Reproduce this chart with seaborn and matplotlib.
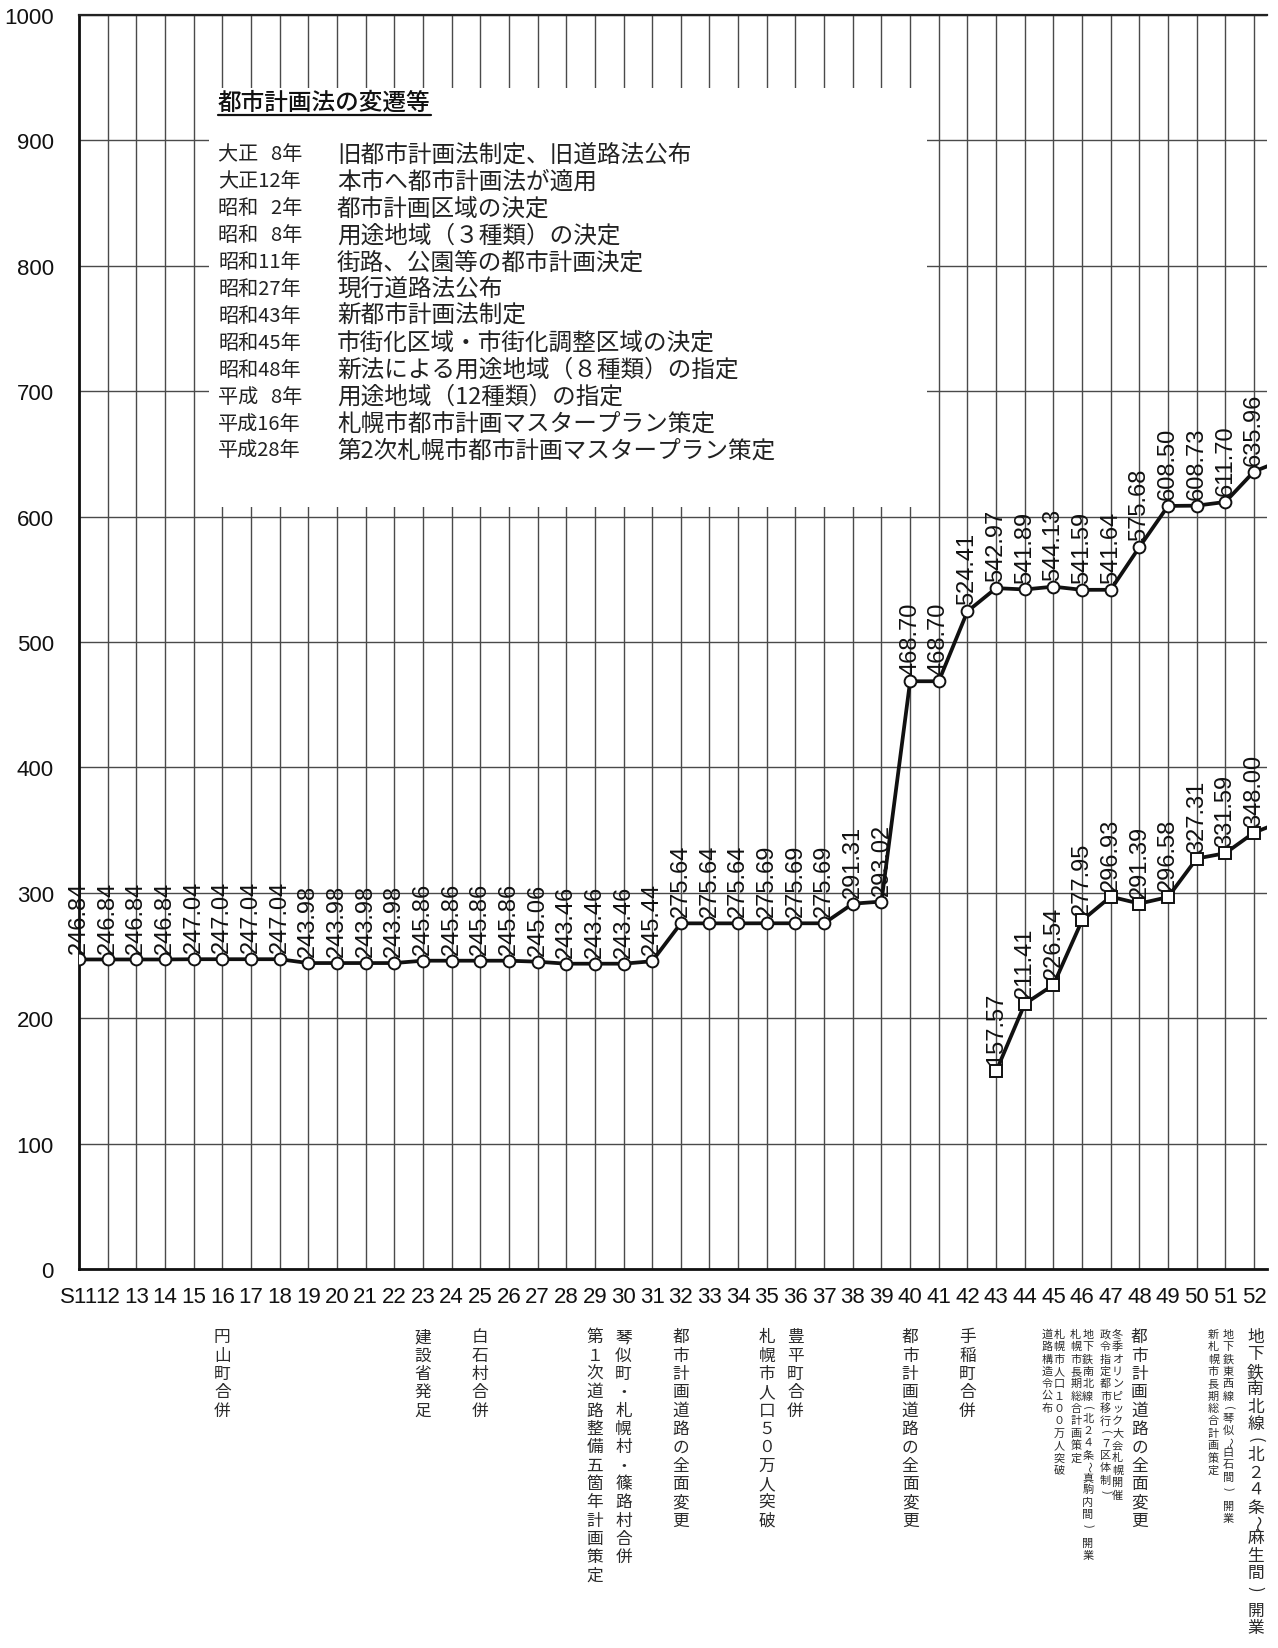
import numpy as np
import pandas as pd
import matplotlib
matplotlib.use("Agg")
import matplotlib.pyplot as plt
import seaborn as sns
from matplotlib.patches import Rectangle
from matplotlib.lines import Line2D

# ---------------- data ----------------
years = ["S11"] + [str(i) for i in range(12, 53)]

total_km = [246.84, 246.84, 246.84, 246.84, 247.04, 247.04, 247.04, 247.04,
            243.98, 243.98, 243.98, 243.98, 245.86, 245.86, 245.86, 245.86,
            245.06, 243.46, 243.46, 243.46, 245.44, 275.64, 275.64, 275.64,
            275.69, 275.69, 275.69, 291.31, 293.02, 468.70, 468.70, 524.41,
            542.97, 541.89, 544.13, 541.59, 541.64, 575.68, 608.50, 608.73,
            611.70, 635.96]
total_next = 645.0          # following year, only its connecting segment is visible

second_years = ["43", "44", "45", "46", "47", "48", "49", "50", "51", "52"]
second_km = [157.57, 211.41, 226.54, 277.95, 296.93, 291.39, 296.58,
             327.31, 331.59, 348.00]
second_next = 357.0

y_ticks = [0, 100, 200, 300, 400, 500, 600, 700, 800, 900, 1000]

box_title = "都市計画法の変遷等"
history_era = ["大正\u20078年", "大正12年", "昭和\u20072年", "昭和\u20078年", "昭和11年",
               "昭和27年", "昭和43年", "昭和45年", "昭和48年", "平成\u20078年",
               "平成16年", "平成28年"]
history_text = ["旧都市計画法制定、旧道路法公布",
                "本市へ都市計画法が適用",
                "都市計画区域の決定",
                "用途地域（３種類）の決定",
                "街路、公園等の都市計画決定",
                "現行道路法公布",
                "新都市計画法制定",
                "市街化区域・市街化調整区域の決定",
                "新法による用途地域（８種類）の指定",
                "用途地域（12種類）の指定",
                "札幌市都市計画マスタープラン策定",
                "第2次札幌市都市計画マスタープラン策定"]

# events under the axis: (year, offset in year units, text, size class)
events = [
    ("16", 0.0, "円山町合併", "L"),
    ("23", 0.0, "建設省発足", "L"),
    ("25", 0.0, "白石村合併", "L"),
    ("29", 0.0, "第１次道路整備五箇年計画策定", "L"),
    ("30", 0.0, "琴似町・札幌村・篠路村合併", "L"),
    ("32", 0.0, "都市計画道路の全面変更", "L"),
    ("35", 0.0, "札幌市人口５０万人突破", "L"),
    ("36", 0.0, "豊平町合併", "L"),
    ("40", 0.0, "都市計画道路の全面変更", "L"),
    ("42", 0.0, "手稲町合併", "L"),
    ("45", -0.22, "道路構造令公布", "S"),
    ("45", 0.20, "札幌市人口１００万人突破", "S"),
    ("46", -0.22, "札幌市長期総合計画策定", "S"),
    ("46", 0.20, "地下鉄南北線（北２４条～真駒内間）　開業", "S"),
    ("47", -0.18, "政令指定都市移行（７区体制）", "S"),
    ("47", 0.24, "冬季オリンピック大会札幌開催", "S"),
    ("48", 0.0, "都市計画道路の全面変更", "L"),
    ("51", -0.42, "新札幌市長期総合計画策定", "S"),
    ("51", 0.10, "地下鉄東西線（琴似～白石間）　開業", "S"),
    ("52", 0.05, "地下鉄南北線（北２４条～麻生間）　開業", "L2"),
]

# ---------------- style ----------------
sns.set_theme(style="white")
NUM_FONT = ["Liberation Sans", "DejaVu Sans"]
CJK_FONT = ["Noto Sans CJK JP", "DejaVu Sans"]
plt.rcParams["font.family"] = NUM_FONT

W, H = 1278, 1649
fig = plt.figure(figsize=(W / 100, H / 100), dpi=100)
ax_left, ax_right, ax_top, ax_bottom = 79, 1267, 16, 1270
ax = fig.add_axes([ax_left / W, 1 - ax_bottom / H,
                   (ax_right - ax_left) / W, (ax_bottom - ax_top) / H])

pos = np.arange(len(years))
df1 = pd.DataFrame({"pos": np.append(pos, len(years)),
                    "km": total_km + [total_next]})
pos2 = np.array([years.index(y) for y in second_years])
df2 = pd.DataFrame({"pos": np.append(pos2, len(years)),
                    "km": second_km + [second_next]})

line_kw = dict(color="#111111", linewidth=2.7, markeredgecolor="#111111",
               markerfacecolor="white", markeredgewidth=1.4, zorder=3)
sns.lineplot(data=df1, x="pos", y="km", marker="o", markersize=8.5, ax=ax, **line_kw)
sns.lineplot(data=df2, x="pos", y="km", marker="s", markersize=8.5, ax=ax, **line_kw)

step = 28.7
ax.set_xlim(0, len(years) - 1 + (ax_right - 1254) / step)
ax.set_ylim(0, 1000)
ax.set_xticks(pos)
ax.set_xticklabels(years)
ax.set_yticks(y_ticks)
ax.set_xlabel("")
ax.set_ylabel("")
ax.tick_params(axis="x", length=0, pad=12, labelsize=16, labelcolor="#111111")
ax.tick_params(axis="y", length=0, pad=18, labelsize=16, labelcolor="#111111")

ax.set_axisbelow(True)
ax.grid(True, axis="both", color="#4a4a4a", linewidth=1.0)
for side in ["left", "bottom"]:
    ax.spines[side].set_color("#111111")
    ax.spines[side].set_linewidth(2.0)
ax.spines["top"].set_color("#222222")
ax.spines["top"].set_linewidth(1.6)
ax.spines["right"].set_visible(False)

# white panel that hides the grid behind the list
ax.add_patch(Rectangle((4.55, 608), 29.6 - 4.55, 942 - 608, facecolor="white",
                       edgecolor="none", zorder=1))

# value labels
for xs, vs in ((pos, total_km), (pos2, second_km)):
    for x, v in zip(xs, vs):
        ax.annotate(f"{v:.2f}", (x, v), xytext=(0, 5), textcoords="offset points",
                    rotation=90, ha="center", va="bottom", fontsize=17,
                    color="#111111", zorder=4)

# list in the panel
t = fig.text(218 / W, 1 - 92 / H, box_title, ha="left", va="top", fontsize=17,
             family=CJK_FONT, fontweight="medium", color="#111111")
row0, drow = 155, 26.9
for i, (era, txt) in enumerate(zip(history_era, history_text)):
    yy = 1 - (row0 + i * drow) / H
    fig.text(218 / W, yy, era, ha="left", va="center", fontsize=14.5,
             family=CJK_FONT, color="#222222")
    fig.text(337 / W, yy, txt, ha="left", va="center", fontsize=17,
             family=CJK_FONT, color="#222222")

fig.canvas.draw()
bb = t.get_window_extent(fig.canvas.get_renderer())
fig.add_artist(Line2D([bb.x0 / W, bb.x1 / W], [(bb.y0 - 1) / H, (bb.y0 - 1) / H],
                      color="#111111", linewidth=1.6, transform=fig.transFigure))

# vertical event notes below the axis (one glyph per cell, top to bottom)
top_off = (1330 - ax_bottom) * 0.72 - 1.0
# (font size, normal cell, narrow cell, blank cell) in points
sizes = {"L": (12, 13.2, 10.5, 7), "L2": (12, 12.6, 9.5, 5), "S": (8, 8.9, 7.0, 5)}
narrow = "（）～"
for yr, off, txt, cls in events:
    xpos = years.index(yr) + off
    fs, stp, stp_n, stp_b = sizes[cls]
    cursor = -top_off
    for ch in txt:
        if ch == "　":
            cursor -= stp_b
            continue
        cell = stp_n if ch in narrow else stp
        glyph = {"（": "(", "）": ")"}.get(ch, ch)
        rot = -90 if ch in narrow else 0
        ax.annotate(glyph, xy=(xpos, 0), xycoords=("data", "axes fraction"),
                    xytext=(0, cursor - cell / 2), textcoords="offset points",
                    ha="center", va="center", rotation=rot, rotation_mode="anchor",
                    fontsize=fs, family=CJK_FONT, color="#2a2a2a",
                    annotation_clip=False)
        cursor -= cell

fig.savefig("out.png", dpi=100)
